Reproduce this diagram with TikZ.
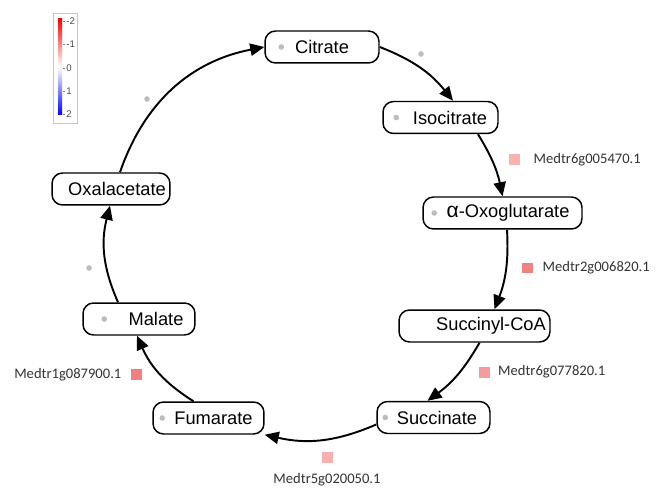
\documentclass[tikz,border=0pt]{standalone}
\usepackage{fontspec}
\setmainfont{Liberation Sans}
\newfontfamily\genefont{Carlito}
\usepackage{xcolor}
\usepackage{tikz}
\usetikzlibrary{arrows.meta,positioning,calc}

\definecolor{dotgray}{HTML}{BDBDBD}
\definecolor{pinkA}{HTML}{F7B2B2}
\definecolor{pinkB}{HTML}{F28282}
\definecolor{pinkC}{HTML}{F59B9B}
\definecolor{pinkD}{HTML}{F7B0B0}
\definecolor{pinkE}{HTML}{F27F7F}

\tikzset{
  metab/.style={rectangle, draw, rounded corners=6pt, line width=0.85pt, minimum height=0.64cm, inner sep=0pt, font=\fontsize{10.4}{12}\selectfont},
  react/.style={line width=1.1pt, -{Triangle[length=8pt,width=7pt]}},
  gene/.style={rectangle, minimum size=0.22cm, inner sep=0pt},
  genelabel/.style={inner sep=0pt, font=\genefont\fontsize{8.3}{10}\selectfont, text=black!80}
}

\begin{document}
\begin{tikzpicture}[x=0.02cm, y=-0.02cm]
    \useasboundingbox (0,0) rectangle (658,489);

    % Legend
    \draw[gray!45, line width=0.4pt] (53,13) rectangle (77,123);
    \shade[top color=red, bottom color=blue, middle color=white] (58,19) rectangle (62,115);
    \foreach \y/\t/\n in {21/-2/a, 44/-1/b, 68/0/c, 91/1/d, 114/2/e} {
      \draw[gray, line width=0.3pt] (63,\y) -- (65,\y);
      \node[anchor=west, inner sep=0pt, font=\fontsize{5.5}{5.5}\selectfont, text=gray!60!black] (tick\n) at (66,\y) {\t};
    }

    % Metabolites
    \node[metab, minimum width=2.28cm] (cit) at (322,47) {Citrate};
    \node[metab, minimum width=2.30cm] (iso) at (440.5,117.5) {\hspace*{0.38cm}Isocitrate};
    \node[metab, minimum width=3.18cm] (oxo) at (502.5,213) {\hspace*{0.22cm}{\large α}-Oxoglutarate};
    \node[metab, minimum width=3.02cm] (suc) at (474.5,326) {\hspace*{0.66cm}Succinyl-CoA};
    \node[metab, minimum width=2.26cm] (sux) at (433.5,417.5) {\hspace*{0.14cm}Succinate};
    \node[metab, minimum width=2.22cm] (fum) at (208.5,418) {\hspace*{0.2cm}Fumarate};
    \node[metab, minimum width=2.24cm] (mal) at (139,319) {\hspace*{0.68cm}Malate};
    \node[metab, minimum width=2.36cm] (oaa) at (111,189) {\hspace*{0.24cm}Oxalacetate};

    % Grey dots
    \fill[dotgray] ([shift={(17,0)}]cit.west) circle (1.6pt);
    \fill[dotgray] ([shift={(14,0)}]iso.west) circle (1.6pt);
    \fill[dotgray] ([shift={(12,0)}]oxo.west) circle (1.6pt);
    \fill[dotgray] ([shift={(9,0)}]sux.west) circle (1.6pt);
    \fill[dotgray] ([shift={(10,0)}]fum.west) circle (1.6pt);
    \fill[dotgray] ([shift={(22,0)}]mal.west) circle (1.6pt);
    \fill[dotgray] (421,54) circle (1.6pt);
    \fill[dotgray] (147,99) circle (1.6pt);
    \fill[dotgray] (89,268) circle (1.6pt);

    % Reactions
    \draw[react] ([shift={(9,0)}]oaa.north) to[bend left=30] (cit.west);
    \draw[react] (cit.east) to[bend left=15] ([shift={(12.5,0)}]iso.north);
    \draw[react] ([shift={(37.5,0)}]iso.south) to[bend left=10] (oxo.north);
    \draw[react] ([shift={(4.5,0)}]oxo.south) to[bend left=12] ([shift={(20,0)}]suc.north);
    \draw[react] ([shift={(5,0)}]suc.south) to[bend left=12] ([shift={(-6,0)}]sux.north);
    \draw[react] ([shift={(0,7)}]sux.west) to[bend left=18] (fum.south east);
    \draw[react] ([shift={(-15,0)}]fum.north) to[bend left=17] ([shift={(-2,0)}]mal.south);
    \draw[react] ([shift={(-21,0)}]mal.north) to[bend left=19] ([shift={(-1,0)}]oaa.south);

    % Genes
    \node[gene, fill=pinkA] (g1) at (514,160) {};
    \node[genelabel, right=0.27cm of g1] (g1l) {Medtr6g005470.1};
    \node[gene, fill=pinkB] (g2) at (527,268) {};
    \node[genelabel, right=0.19cm of g2] (g2l) {Medtr2g006820.1};
    \node[gene, fill=pinkC] (g3) at (484,372) {};
    \node[genelabel, right=0.16cm of g3] (g3l) {Medtr6g077820.1};
    \node[gene, fill=pinkD] (g4) at (327,457) {};
    \node[genelabel, below=0.2cm of g4] (g4l) {Medtr5g020050.1};
    \node[gene, fill=pinkE] (g5) at (136.5,374.5) {};
    \node[genelabel, left=0.18cm of g5] (g5l) {Medtr1g087900.1};
\end{tikzpicture}
\end{document}
